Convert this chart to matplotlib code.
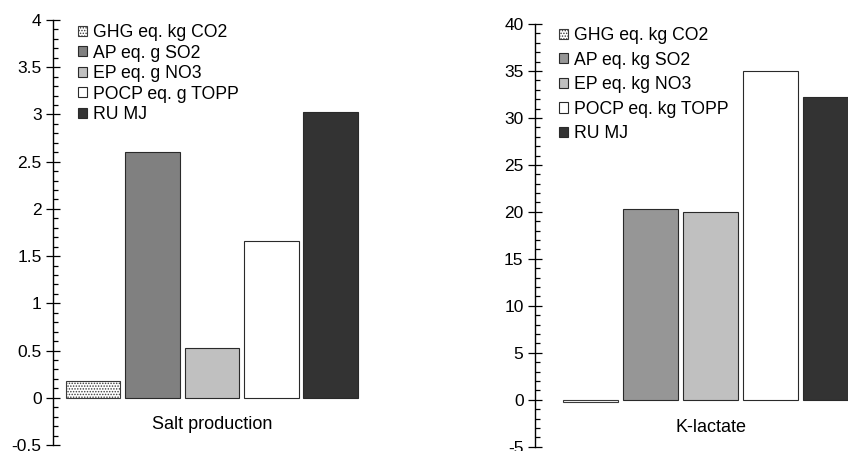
import matplotlib
matplotlib.use("Agg")
import matplotlib.pyplot as plt
from matplotlib.ticker import MultipleLocator, FormatStrFormatter

plt.rcParams['font.family'] = ['Liberation Sans', 'DejaVu Sans']
plt.rcParams['hatch.linewidth'] = 0.7

# ---- data ----
left_labels = ["GHG eq. kg CO2", "AP eq. g SO2", "EP eq. g NO3", "POCP eq. g TOPP", "RU MJ"]
left_values = [0.18, 2.60, 0.53, 1.66, 3.03]
left_category = "Salt production"

right_labels = ["GHG eq. kg CO2", "AP eq. kg SO2", "EP eq. kg NO3", "POCP eq. kg TOPP", "RU MJ"]
right_values = [-0.2, 20.3, 20.0, 35.0, 32.2]
right_category = "K-lactate"

left_colors = ["white", "#808080", "#c0c0c0", "white", "#333333"]
right_colors = ["white", "#969696", "#c0c0c0", "white", "#333333"]
hatches = ["......", None, None, None, None]

W, H = 848, 451
fig = plt.figure(figsize=(W / 100, H / 100), dpi=100)

def px_axes(left, right, top, bottom):
    return fig.add_axes([left / W, 1 - bottom / H, (right - left) / W, (bottom - top) / H])

def style_axes(ax, major, minor, ylim):
    for s in ['top', 'right', 'bottom']:
        ax.spines[s].set_visible(False)
    ax.spines['left'].set_linewidth(1.0)
    ax.spines['left'].set_color('black')
    ax.set_ylim(*ylim)
    ax.yaxis.set_major_locator(MultipleLocator(major))
    ax.yaxis.set_minor_locator(MultipleLocator(minor))
    ax.yaxis.set_major_formatter(FormatStrFormatter('%g'))
    ax.tick_params(axis='y', which='major', direction='inout', length=9.5, width=0.9,
                   labelsize=12.5, pad=3.5)
    ax.tick_params(axis='y', which='minor', direction='in', length=3.6, width=0.9)
    ax.set_xticks([])
    ax.patch.set_alpha(0)

def draw(ax, values, labels, colors, category, cat_y, leg_anchor, spacing):
    xs = range(len(values))
    bars = ax.bar(xs, values, width=0.92, color=colors, edgecolor='#2a2a2a',
                  linewidth=0.8)
    for b, h in zip(bars, hatches):
        if h:
            b.set_hatch(h)
            b.set_edgecolor('#3a3a3a')
    ax.text(2, cat_y, category, ha='center', va='center', fontsize=13)
    ax.legend(handles=list(bars), labels=labels, loc='upper left',
              bbox_to_anchor=leg_anchor, bbox_transform=fig.transFigure,
              frameon=False, fontsize=12.7, handlelength=0.52, handleheight=0.52,
              handletextpad=0.35, labelspacing=spacing, borderpad=0, borderaxespad=0)

# left chart
ax1 = px_axes(53, 360.4, 20, 445)
ax1.set_xlim(-0.673, 4.5)
style_axes(ax1, 0.5, 0.1, (-0.5, 4))
draw(ax1, left_values, left_labels, left_colors, left_category, -0.28,
     (78 / W, 1 - 24 / H), 0.2)

# right chart
ax2 = px_axes(535, 867, 24, 446.7)
ax2.set_xlim(-0.917, 4.6)
style_axes(ax2, 5, 1, (-5, 40))
draw(ax2, right_values, right_labels, right_colors, right_category, -2.95,
     (559 / W, 1 - 27 / H), 0.43)

fig.savefig("out.png", dpi=100)
